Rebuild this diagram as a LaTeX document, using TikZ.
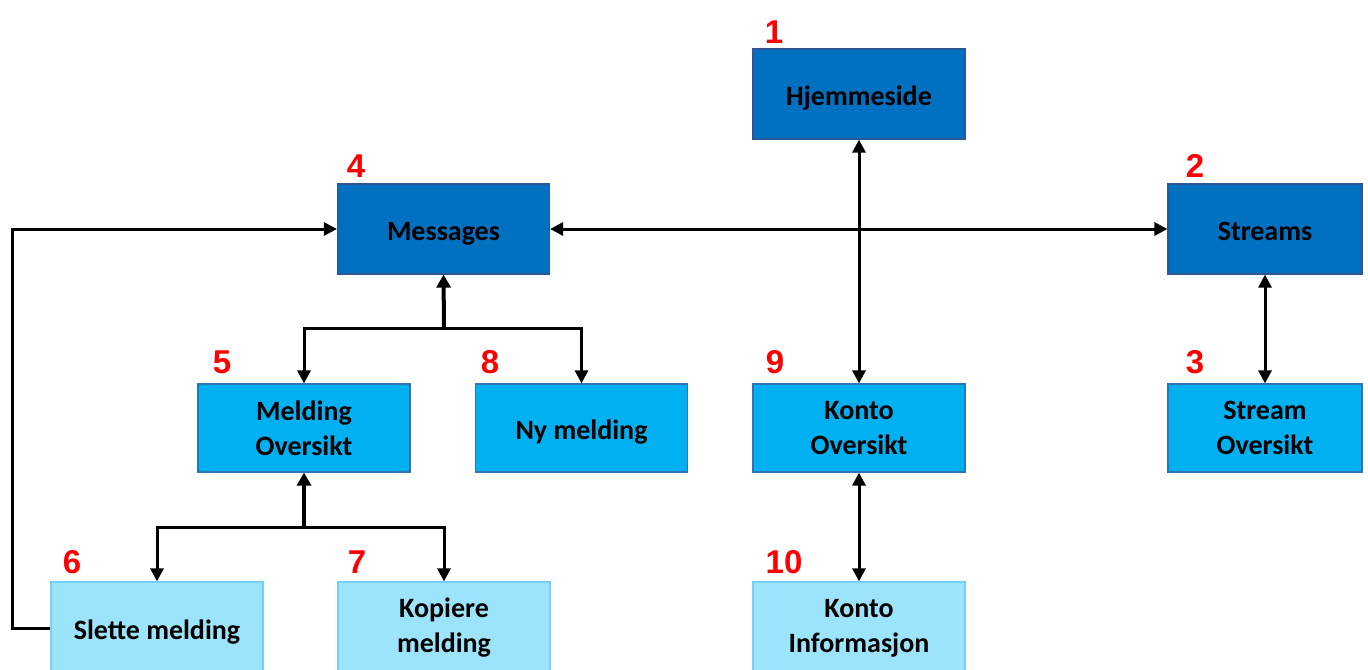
\documentclass[tikz,border=0pt]{standalone}
\usepackage{fontspec}
\setmainfont{Carlito}
\newfontfamily\numfont{Liberation Sans}
\usetikzlibrary{arrows.meta}
\definecolor{topblue}{HTML}{0070C0}
\definecolor{topedge}{HTML}{2F5597}
\definecolor{midblue}{HTML}{00B0F0}
\definecolor{midedge}{HTML}{2E75B6}
\definecolor{lowblue}{HTML}{9CE4FC}
\definecolor{lowedge}{HTML}{6ED3F7}
\definecolor{numred}{HTML}{FF0000}
\tikzset{
  box/.style={rectangle, inner sep=0pt, line width=0.6pt, align=center,
    font=\fontsize{14}{17.5}\selectfont\bfseries, text=black},
  oneline/.style={text height=11pt, text depth=0pt},
  twoline/.style={yshift=0pt},
  lvlone/.style={box, fill=topblue, draw=topedge, minimum width=106pt, minimum height=45pt},
  lvltwo/.style={box, fill=midblue, draw=midedge, minimum width=106pt, minimum height=44pt},
  lvlthree/.style={box, fill=lowblue, draw=lowedge, minimum width=106pt, minimum height=46pt},
  narrow/.style={minimum width=97pt},
  num/.style={anchor=base, inner sep=0pt, text=numred,
    font=\numfont\fontsize{16.5}{16.5}\selectfont\bfseries},
  link/.style={line width=1.5pt, -{Triangle[length=6.5pt,width=6.5pt]}},
  twoway/.style={line width=1.5pt, {Triangle[length=6.5pt,width=6.5pt]}-{Triangle[length=6.5pt,width=6.5pt]}},
  stem/.style={line width=2pt, -{Triangle[length=6.5pt,width=7pt]}}
}
\begin{document}
\begin{tikzpicture}[x=0.5pt, y=-0.5pt]
\useasboundingbox (0,0) rectangle (1368,669);

% top level pages
\node[lvlone, oneline] (hj) at (859,94) {Hjemmeside};
\node[lvlone, oneline] (msg) at (443.5,229) {Messages};
\node[lvlone, oneline, narrow] (str) at (1265,229) {Streams};

% second level pages
\node[lvltwo] (mo) at (304,428) {Melding\\Oversikt};
\node[lvltwo, oneline] (ny) at (581.5,428) {Ny melding};
\node[lvltwo] (ko) at (859,428) {Konto\\Oversikt};
\node[lvltwo, narrow] (so) at (1265,428) {Stream\\Oversikt};

% third level pages
\node[lvlthree, oneline] (sl) at (157,628) {Slette melding};
\node[lvlthree] (kp) at (444,628) {Kopiere\\melding};
\node[lvlthree] (ki) at (859,628) {Konto\\Informasjon};

% page numbers
\node[num] (n1) at (774,43) {1};
\node[num] (n2) at (1195,177) {2};
\node[num] (n3) at (1195,373) {3};
\node[num] (n4) at (356,177) {4};
\node[num] (n5) at (222,373) {5};
\node[num] (n6) at (72,573) {6};
\node[num] (n7) at (357,573) {7};
\node[num] (n8) at (490,373) {8};
\node[num] (n9) at (775,373) {9};
\node[num] (n10) at (784,573) {10};

% two-way links
\draw[twoway] (hj) -- (ko);
\draw[twoway] (msg) -- (str);
\draw[twoway] (str) -- (so);
\draw[twoway] (ko) -- (ki);

% Messages branch
\coordinate (j1) at (444,328);
\draw[stem] (j1) -- (msg.south);
\draw[link] (j1) -| (mo.north);
\draw[link] (j1) -| (ny.north);

% Melding Oversikt branch
\coordinate (j2) at (304,527);
\draw[stem] (j2) -- (mo.south);
\draw[link] (j2) -| (sl.north);
\draw[link] (j2) -| (kp.north);

% return from Slette melding to Messages
\coordinate (bend) at (12,628);
\draw[link] (sl.west) -- (bend) |- (msg.west);
\end{tikzpicture}
\end{document}
